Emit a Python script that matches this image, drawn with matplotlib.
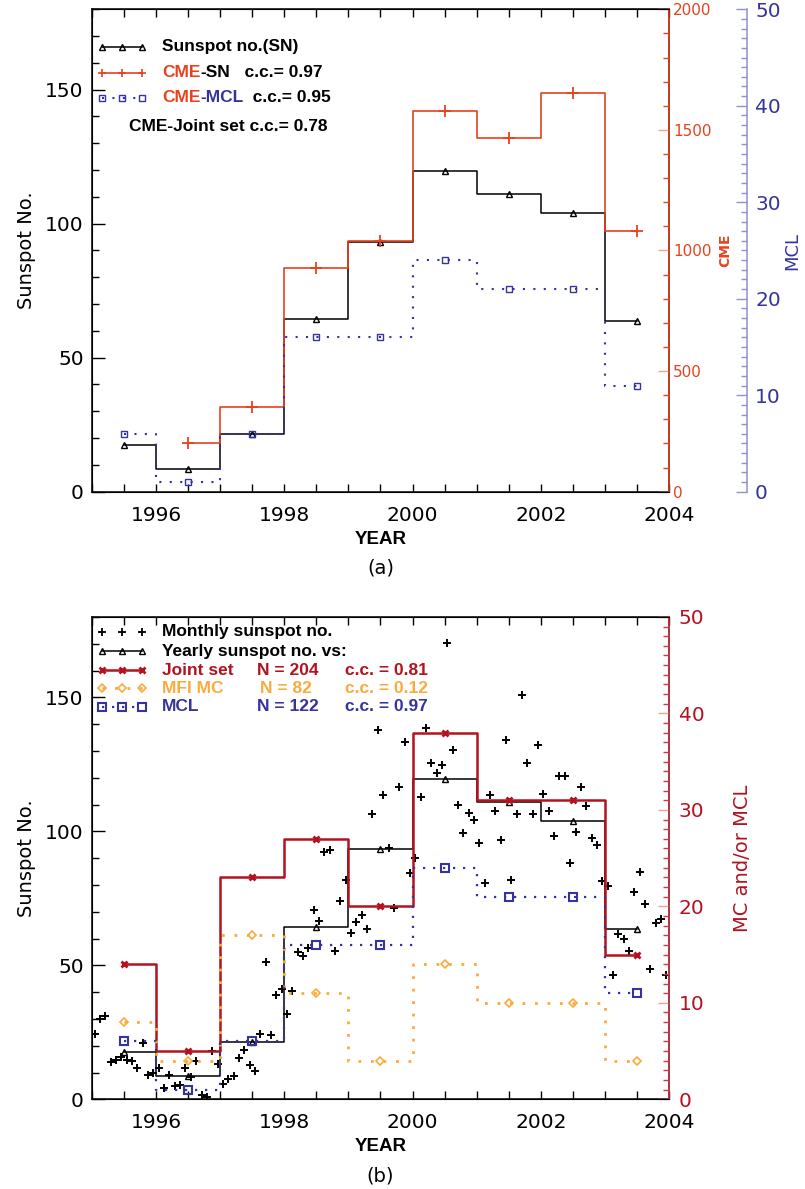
import matplotlib
matplotlib.use('Agg')
import matplotlib.pyplot as plt
from matplotlib.ticker import MultipleLocator

plt.rcParams['font.family'] = ['DejaVu Sans']

# yearly bins (centre of each year)
years = [1995.5, 1996.5, 1997.5, 1998.5, 1999.5, 2000.5, 2001.5, 2002.5, 2003.5]
ssn_yearly = [17.5, 8.6, 21.5, 64.3, 93.3, 119.6, 111.0, 104.0, 63.7]

# CME rate, 1996-2003 only
cme_years = [1996.5, 1997.5, 1998.5, 1999.5, 2000.5, 2001.5, 2002.5, 2003.5]
cme_count = [203, 350, 929, 1041, 1580, 1467, 1652, 1081]

# counts per year (right axes)
mcl_count = [6, 1, 6, 16, 16, 24, 21, 21, 11]
mc_count = [8, 4, 17, 11, 4, 14, 10, 10, 4]
joint_count = [14, 5, 23, 27, 20, 38, 31, 31, 15]

# monthly sunspot number 1995-2003
ssn_monthly = [
    24.2, 29.9, 31.1, 14.0, 14.5, 15.6, 14.5, 14.3, 11.8, 21.1, 9.0, 10.0,
    11.5, 4.4, 9.2, 4.8, 5.5, 11.8, 8.2, 14.4, 1.6, 0.9, 17.9, 13.3,
    5.7, 7.6, 8.7, 15.5, 18.5, 12.7, 10.4, 24.4, 51.3, 23.9, 39.0, 41.3,
    31.9, 40.3, 54.8, 53.4, 56.3, 70.7, 66.6, 92.2, 92.9, 55.5, 74.0, 81.9,
    62.0, 66.3, 68.8, 63.7, 106.4, 137.7, 113.5, 93.7, 71.5, 116.7, 133.2, 84.6,
    90.1, 112.9, 138.5, 125.5, 121.6, 124.9, 170.1, 130.5, 109.7, 99.4, 106.8, 104.4,
    95.6, 80.6, 113.5, 107.7, 96.6, 134.0, 81.8, 106.4, 150.7, 125.5, 106.5, 132.2,
    114.1, 107.4, 98.4, 120.7, 120.8, 88.3, 99.6, 116.4, 109.6, 97.5, 95.0, 81.6,
    79.5, 46.2, 61.5, 60.0, 55.2, 77.4, 85.0, 72.7, 48.8, 65.6, 67.3, 46.5,
]
month_time = [y + (m + 0.5) / 12.0 for y in range(1995, 2004) for m in range(12)]

RED = '#e8411f'
PINK = '#f2a090'
CRIMSON = '#b3121f'
ORANGE = '#fbab3c'
NAVY = '#34349c'
LAVENDER = '#9090d0'
TICK_FS = 14.5
LEG_FS = 12.5
LEG_FONT = ['Liberation Sans', 'DejaVu Sans']

fig = plt.figure(figsize=(8.05, 11.89), dpi=100)


def style_main(ax):
    ax.set_xlim(1995, 2004)
    ax.set_ylim(0, 180)
    ax.xaxis.set_major_locator(MultipleLocator(2))
    ax.xaxis.set_minor_locator(MultipleLocator(0.5))
    ax.yaxis.set_major_locator(MultipleLocator(50))
    ax.yaxis.set_minor_locator(MultipleLocator(10))
    ax.tick_params(axis='x', which='both', direction='in', top=True, bottom=True,
                   length=6, width=1, labelsize=TICK_FS, pad=10)
    ax.tick_params(axis='y', which='major', direction='in', right=False,
                   length=9, width=1, labelsize=TICK_FS, pad=6)
    ax.tick_params(axis='y', which='minor', direction='in', right=False, length=5, width=1)
    for s in ax.spines.values():
        s.set_linewidth(1.1)
    ax.set_ylabel('Sunspot No.', fontsize=14)
    ax.yaxis.set_label_coords(-0.097, 0.5)
    ax.set_xlabel('YEAR', fontsize=13.5, fontweight='bold', family=LEG_FONT)
    ax.xaxis.set_label_coords(0.5, -0.081)


def style_right(ax, lo, hi, major, minor, spine_col, major_col, label_col, fs, pad):
    ax.set_ylim(lo, hi)
    ax.yaxis.set_major_locator(MultipleLocator(major))
    ax.yaxis.set_minor_locator(MultipleLocator(minor))
    ax.tick_params(axis='y', which='major', direction='in', left=False, right=True,
                   length=8, width=1, color=major_col, labelcolor=label_col,
                   labelsize=fs, pad=pad)
    ax.tick_params(axis='y', which='minor', direction='in', left=False, right=True,
                   length=4, width=1, color=spine_col)
    ax.spines['right'].set_color(spine_col)
    ax.spines['right'].set_linewidth(1.1)


def sample(ax, yf, **kw):
    ax.plot([0.0173, 0.052, 0.0867], [yf] * 3, transform=ax.transAxes,
            clip_on=False, **kw)


def legend_text(ax, x0, yf, pieces):
    t = None
    for s, c in pieces:
        if t is None:
            t = ax.text(x0, yf, s, color=c, transform=ax.transAxes, ha='left',
                        va='center', fontsize=LEG_FS, fontweight='bold',
                        family=LEG_FONT)
        else:
            t = ax.annotate(s, xy=(1, 0), xycoords=t, ha='left', va='bottom',
                            color=c, fontsize=LEG_FS, fontweight='bold',
                            family=LEG_FONT)
    return t


# ---------------- panel (a) ----------------
ax1 = fig.add_axes([92 / 805, 1 - 491.7 / 1189, 577 / 805, 482.4 / 1189])
ax1.plot(years, ssn_yearly, drawstyle='steps-mid', color='k', lw=1.1,
         marker='^', mfc='none', mec='k', ms=5, mew=1)
style_main(ax1)
ax1.text(0.5, -0.159, '(a)', transform=ax1.transAxes, ha='center', va='center',
         fontsize=14)

ax_cme = ax1.twinx()
ax_cme.plot(cme_years, cme_count, drawstyle='steps-mid', color=RED, lw=1.2,
            marker='+', ms=9, mew=1.3)
style_right(ax_cme, 0, 2000, 500, 100, RED, PINK, RED, 11, 3)
ax_cme.set_ylabel('CME', color=RED, fontsize=10, fontweight='bold')
ax_cme.yaxis.set_label_coords(1.085, 0.5)

ax_mcl = ax1.twinx()
ax_mcl.spines['right'].set_position(('outward', 56))
for k in ('left', 'top', 'bottom'):
    ax_mcl.spines[k].set_visible(False)
ax_mcl.plot(years, mcl_count, drawstyle='steps-mid', color=NAVY, lw=1.5,
            ls=(0, (1, 4)), marker='s', mfc='none', mec=NAVY, ms=5, mew=1)
style_right(ax_mcl, 0, 50, 10, 1, LAVENDER, LAVENDER, NAVY, TICK_FS, 6)
ax_mcl.set_ylabel('MCL', color=NAVY, fontsize=13)
ax_mcl.yaxis.set_label_coords(1.198, 0.5)

# legend (a)
rows_a = [0.9225, 0.8686, 0.8168, 0.758]
sample(ax_mcl, rows_a[0], color='k', lw=1.1, marker='^', mfc='none', ms=5, mew=1)
sample(ax_mcl, rows_a[1], color=RED, lw=1.2, marker='+', ms=6, mew=1.2)
sample(ax_mcl, rows_a[2], color=NAVY, lw=1.5, ls=(0, (1, 4)), marker='s',
       mfc='none', ms=5, mew=1)
legend_text(ax_mcl, 0.121, rows_a[0], [('Sunspot no.(SN)', 'k')])
legend_text(ax_mcl, 0.121, rows_a[1], [('CME', RED), ('-SN', 'k'), ('   c.c.= 0.97', 'k')])
legend_text(ax_mcl, 0.121, rows_a[2], [('CME', RED), ('-MCL', NAVY), ('  c.c.= 0.95', 'k')])
legend_text(ax_mcl, 0.064, rows_a[3], [('CME-Joint set c.c.= 0.78', 'k')])

# ---------------- panel (b) ----------------
ax2 = fig.add_axes([92 / 805, 1 - 1099.3 / 1189, 577 / 805, 482.4 / 1189])
ax2.plot(month_time, ssn_monthly, ls='none', marker='+', color='k', ms=6, mew=1.4)
ax2.plot(years, ssn_yearly, drawstyle='steps-mid', color='k', lw=1.1,
         marker='^', mfc='none', mec='k', ms=5, mew=1)
style_main(ax2)
ax2.text(0.5, -0.159, '(b)', transform=ax2.transAxes, ha='center', va='center',
         fontsize=14)

ax2r = ax2.twinx()
ax2r.plot(years, joint_count, drawstyle='steps-mid', color=CRIMSON, lw=1.8,
          marker='x', ms=5, mew=2)
ax2r.plot(years, mc_count, drawstyle='steps-mid', color=ORANGE, lw=2,
          ls=(0, (1, 3.5)), marker='D', mfc='none', mec=ORANGE, ms=4.5, mew=1.2)
ax2r.plot(years, mcl_count, drawstyle='steps-mid', color=NAVY, lw=1.6,
          ls=(0, (1, 3.5)), marker='s', mfc='none', mec=NAVY, ms=6, mew=1.5)
style_right(ax2r, 0, 50, 10, 1, '#d03848', PINK, CRIMSON, TICK_FS, 7)
ax2r.set_ylabel('MC and/or MCL', color=CRIMSON, fontsize=14)
ax2r.yaxis.set_label_coords(1.111, 0.5)

# legend (b)
rows_b = [0.9693, 0.9293, 0.8899, 0.8526, 0.8138]
sample(ax2r, rows_b[0], ls='none', color='k', marker='+', ms=6, mew=1.3)
sample(ax2r, rows_b[1], color='k', lw=1.1, marker='^', mfc='none', ms=5, mew=1)
sample(ax2r, rows_b[2], color=CRIMSON, lw=1.8, marker='x', ms=5, mew=2)
sample(ax2r, rows_b[3], color=ORANGE, lw=2, ls=(0, (1, 3.5)), marker='D',
       mfc='none', ms=4.5, mew=1.2)
sample(ax2r, rows_b[4], color=NAVY, lw=1.6, ls=(0, (1, 3.5)), marker='s',
       mfc='none', ms=6, mew=1.5)
legend_text(ax2r, 0.121, rows_b[0], [('Monthly sunspot no.', 'k')])
legend_text(ax2r, 0.121, rows_b[1], [('Yearly sunspot no. vs:', 'k')])
for yf, name, nstr, nx, cc, col in [
        (rows_b[2], 'Joint set', 'N = 204', 0.2854, 'c.c. = 0.81', CRIMSON),
        (rows_b[3], 'MFI MC', 'N = 82', 0.2912, 'c.c. = 0.12', ORANGE),
        (rows_b[4], 'MCL', 'N = 122', 0.2854, 'c.c. = 0.97', NAVY)]:
    legend_text(ax2r, 0.121, yf, [(name, col)])
    legend_text(ax2r, nx, yf, [(nstr, col)])
    legend_text(ax2r, 0.4385, yf, [(cc, col)])

fig.savefig('out.png', dpi=100)
